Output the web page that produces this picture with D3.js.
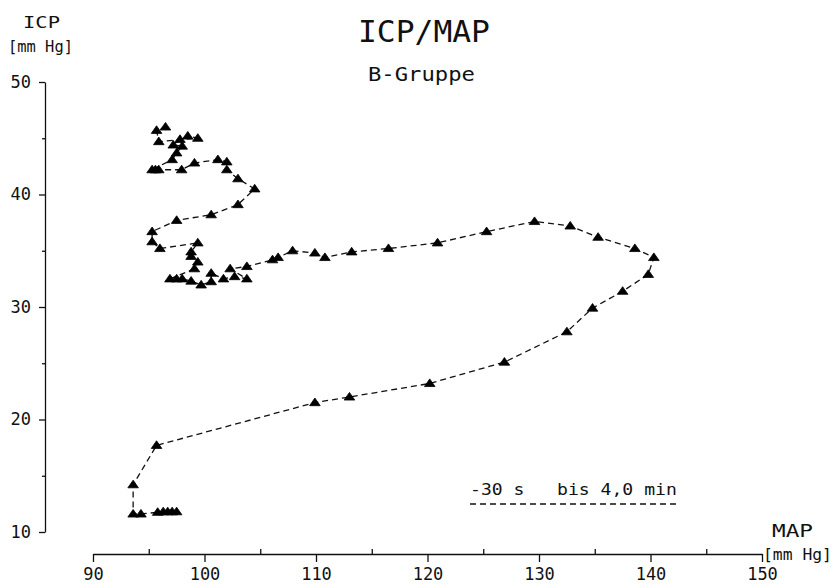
<!DOCTYPE html>
<html>
<head>
<meta charset="utf-8">
<script src="https://cdn.jsdelivr.net/npm/d3@7"></script>
<style>
  html, body { margin: 0; padding: 0; background: #fff; }
  svg { display: block; }
  text { font-family: "DejaVu Sans Mono", monospace; fill: #111; white-space: pre; }
</style>
</head>
<body>
<svg id="chart" width="834" height="587"></svg>
<script>
// ---- data ----
const mapValues = [
  97.5, 97.1, 96.7, 96.3, 95.8, 94.3, 93.6, 93.6, 95.7,
  109.9, 113.0, 120.2, 126.9, 132.5, 134.8, 137.5, 139.8, 140.3,
  138.6, 135.3, 132.8, 129.6, 125.3, 120.9, 116.5, 113.2, 110.8,
  109.9, 107.9, 106.6, 106.1, 103.8, 102.3, 103.8, 102.7, 101.7,
  100.6, 100.6, 99.7, 98.8, 98.0, 97.5, 96.9, 99.1, 99.4, 98.8,
  98.8, 99.4, 96.0, 95.3, 95.3, 97.5, 100.6, 103.0, 104.5, 103.0,
  102.0, 102.0, 101.2, 99.1, 97.95, 95.9, 95.6, 95.3, 97.1, 97.5,
  98.0, 97.2, 97.8, 98.5, 99.4, 95.9, 95.7, 96.5
];
const icpValues = [
  11.8, 11.8, 11.8, 11.8, 11.75, 11.6, 11.6, 14.2, 17.7,
  21.5, 22.0, 23.2, 25.1, 27.8, 29.9, 31.4, 32.9, 34.4,
  35.2, 36.2, 37.2, 37.6, 36.7, 35.7, 35.2, 34.9, 34.4,
  34.8, 35.0, 34.4, 34.2, 33.6, 33.4, 32.5, 32.7, 32.5,
  33.0, 32.25, 31.96, 32.3, 32.5, 32.5, 32.5, 33.4, 34.0, 34.5,
  34.9, 35.7, 35.2, 35.8, 36.7, 37.7, 38.2, 39.1, 40.5, 41.4,
  42.2, 42.9, 43.1, 42.8, 42.2, 42.2, 42.2, 42.2, 43.1, 43.7,
  44.3, 44.4, 44.9, 45.2, 45.0, 44.7, 45.7, 46.0
];
const xMajorTicks = [90, 100, 110, 120, 130, 140, 150];
const xMinorTicks = [95, 105, 115, 125, 135, 145];
const yMajorTicks = [10, 20, 30, 40, 50];
const yMinorTicks = [15, 25, 35, 45];
const titleText = "ICP/MAP";
const subtitleText = "B-Gruppe";
const yLabel = ["ICP", "[mm Hg]"];
const xLabel = ["MAP", "[mm Hg]"];
const legendText = "-30 s   bis 4,0 min";

const points = mapValues.map((m, i) => ({ map: m, icp: icpValues[i] }));

// ---- layout ----
const svg = d3.select("#chart");
const x = d3.scaleLinear().domain([90, 150]).range([93, 762]);
const y = d3.scaleLinear().domain([10, 50]).range([532, 82]);
const xAxisY = 554;
const yAxisX = 45;

// ---- axes ----
function styleAxis(g) {
  g.select(".domain").attr("stroke", "#111").attr("stroke-width", 1.3);
  g.selectAll(".tick line").attr("stroke", "#111").attr("stroke-width", 1.3);
}

const gx = svg.append("g").attr("transform", `translate(0,${xAxisY})`)
  .call(d3.axisBottom(x).tickValues(xMajorTicks).tickSize(8).tickSizeOuter(0).tickPadding(6).tickFormat(d3.format("d")));
styleAxis(gx);
gx.selectAll(".tick text").attr("font-family", "DejaVu Sans Mono").attr("font-size", 17).attr("fill", "#111");

const gxm = svg.append("g").attr("transform", `translate(0,${xAxisY})`)
  .call(d3.axisTop(x).tickValues(xMinorTicks).tickSize(5).tickSizeOuter(0).tickFormat(""));
styleAxis(gxm);
gxm.select(".domain").remove();

const gy = svg.append("g").attr("transform", `translate(${yAxisX},0)`)
  .call(d3.axisLeft(y).tickValues(yMajorTicks).tickSize(6).tickSizeOuter(0).tickPadding(8).tickFormat(d3.format("d")));
styleAxis(gy);
gy.selectAll(".tick text").attr("font-family", "DejaVu Sans Mono").attr("font-size", 17).attr("fill", "#111");

const gym = svg.append("g").attr("transform", `translate(${yAxisX},0)`)
  .call(d3.axisLeft(y).tickValues(yMinorTicks).tickSize(3).tickSizeOuter(0).tickFormat(""));
styleAxis(gym);
gym.select(".domain").remove();

// ---- line ----
const line = d3.line().x(d => x(d.map)).y(d => y(d.icp));
svg.append("path")
  .datum(points)
  .attr("d", line)
  .attr("fill", "none")
  .attr("stroke", "#111")
  .attr("stroke-width", 1.3)
  .attr("stroke-dasharray", "6,4");

// ---- markers (flat triangles) ----
const flatTriangle = {
  draw(ctx, size) {
    const w = Math.sqrt(size) * 1.5;
    const h = w * 0.72;
    ctx.moveTo(0, -h * 0.6);
    ctx.lineTo(w / 2, h * 0.4);
    ctx.lineTo(-w / 2, h * 0.4);
    ctx.closePath();
  }
};
svg.append("g").selectAll("path")
  .data(points)
  .join("path")
  .attr("transform", d => `translate(${x(d.map)},${y(d.icp)})`)
  .attr("d", d3.symbol().type(flatTriangle).size(50))
  .attr("fill", "#000")
  .attr("stroke", "#000")
  .attr("stroke-width", 0.8)
  .attr("stroke-linejoin", "round");

// ---- texts: natural glyphs, horizontally scaled to the reference width ----
function fitText(str, left, baseline, size, width) {
  const g = svg.append("g");
  const t = g.append("text").attr("x", 0).attr("y", 0).attr("font-size", size).text(str);
  const natural = t.node().getComputedTextLength();
  const sx = width / natural;
  g.attr("transform", `translate(${left},${baseline}) scale(${sx},1)`);
  return t;
}

fitText(titleText, 358, 42, 30, 132);
fitText(subtitleText, 368, 81, 19, 107);

fitText(yLabel[0], 23, 28, 16, 37);
fitText(yLabel[1], 8, 52, 15, 65);

fitText(xLabel[0], 772, 537, 18, 41);
fitText(xLabel[1], 763, 560, 15, 69);

// ---- legend ----
fitText(legendText, 470, 495, 16, 207);
svg.append("line")
  .attr("x1", 470).attr("x2", 677).attr("y1", 504).attr("y2", 504)
  .attr("stroke", "#111").attr("stroke-width", 1.3).attr("stroke-dasharray", "6,4");
</script>
</body>
</html>
